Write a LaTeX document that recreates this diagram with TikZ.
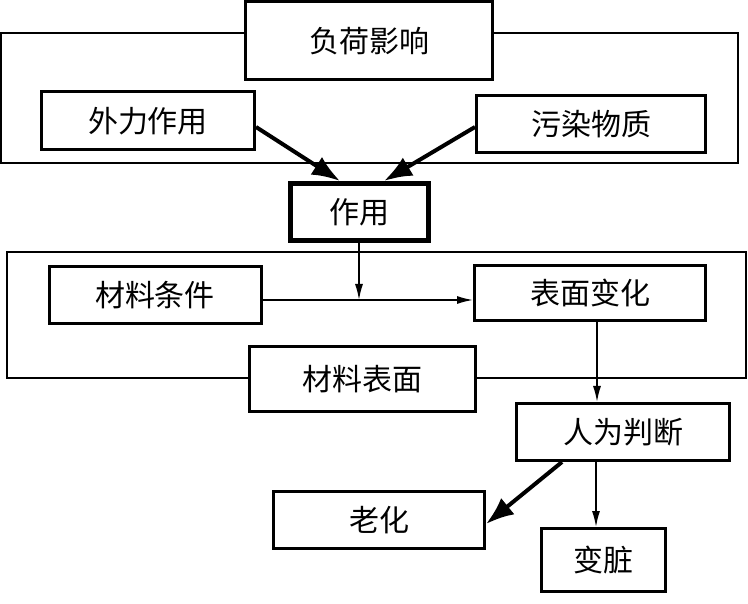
\documentclass[tikz,border=0pt]{standalone}
\usepackage{fontspec}
\newfontfamily\cjk{Noto Sans CJK SC}
\usetikzlibrary{arrows.meta}
\begin{document}
\begin{tikzpicture}[x=1pt,y=-1pt]
          \tikzstyle{every node}=[draw,fill=white,line width=3pt,inner sep=0pt,font=\cjk\fontsize{30}{30}\selectfont];
          \tikzstyle{thin arrow}=[line width=1.5pt,-{Latex[length=16pt,width=8pt]}];
          \tikzstyle{thick arrow}=[line width=4pt,-{Latex[length=28pt,width=21pt]}];
          \useasboundingbox (0,0) rectangle (748,604);
          %frames
          \draw[line width=2pt] (1,33) rectangle (738,163);
          \draw[line width=2pt] (7,252) rectangle (746,378);
          %\node (name) at (x,y) [size] {text};
          \node (load) at (369,41) [minimum width=247pt,minimum height=78pt] {负荷影响};
          \node (force) at (148,121) [minimum width=213pt,minimum height=58pt] {外力作用};
          \node (pollut) at (591,124) [minimum width=229pt,minimum height=57pt] {污染物质};
          \node (act) at (359,212) [line width=5pt,minimum width=138pt,minimum height=57pt] {作用};
          \node (cond) at (155,295) [minimum width=212pt,minimum height=57pt] {材料条件};
          \node (change) at (590,293) [minimum width=231pt,minimum height=55pt] {表面变化};
          \node (surf) at (362,379) [minimum width=226pt,minimum height=65pt] {材料表面};
          \node (judge) at (623,432) [minimum width=213pt,minimum height=57pt] {人为判断};
          \node (aging) at (379,520) [minimum width=211pt,minimum height=57pt] {老化};
          \node (dirty) at (603,560) [minimum width=124pt,minimum height=63pt] {变脏};
          \coordinate (j) at (359,300);
          %arrows
          \draw[thick arrow] ([yshift=-6pt]force.east) -- ([xshift=-19pt]act.north);
          \draw[thick arrow] ([yshift=-3pt]pollut.west) -- ([xshift=25pt]act.north);
          \draw[thin arrow] (act.south) -- (j);
          \draw[thin arrow] (cond.east |- j) -- (change.west |- j);
          \draw[thin arrow] ([xshift=7pt]change.south) -- ([xshift=7pt]change.south |- judge.north);
          \draw[thick arrow] ([xshift=-61pt]judge.south) -- ([yshift=-4pt]aging.east);
          \draw[thin arrow] ([xshift=-7pt]dirty.north |- judge.south) -- ([xshift=-7pt]dirty.north);
      \end{tikzpicture}
\end{document}
